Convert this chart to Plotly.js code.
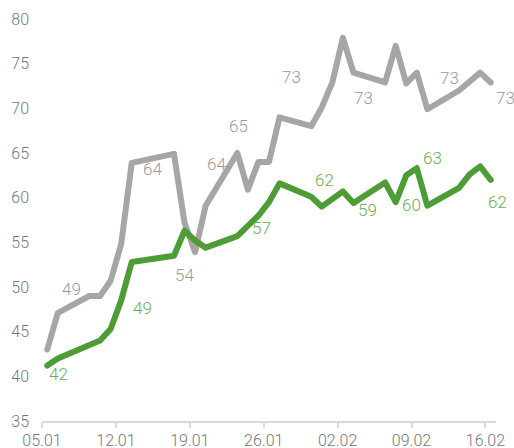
<!DOCTYPE html>
<html>
<head>
<meta charset="utf-8">
<script src="https://cdn.plot.ly/plotly-3.0.1.min.js"></script>
<style>
html,body{margin:0;padding:0;background:#fff;}
#chart{width:514px;height:448px;}
.scatterlayer path.js-line{stroke-linejoin:round;stroke-linecap:round;}
</style>
</head>
<body>
<div id="chart"></div>
<script>
// Poll dates (one point per date)
const dates = ['2021-01-05','2021-01-06','2021-01-09','2021-01-10','2021-01-11','2021-01-12','2021-01-13',
  '2021-01-17','2021-01-18','2021-01-19','2021-01-20','2021-01-23','2021-01-24','2021-01-25','2021-01-26',
  '2021-01-27','2021-01-30','2021-01-31','2021-02-01','2021-02-02','2021-02-03','2021-02-06','2021-02-07',
  '2021-02-08','2021-02-09','2021-02-10','2021-02-13','2021-02-14','2021-02-15','2021-02-16'];
const grayValues = [43.0,47.1,49.0,49.0,50.7,54.8,63.9,
  64.9,57.2,53.9,59.1,65.0,60.9,64.0,64.0,
  69.0,68.0,70.1,72.9,77.9,74.0,72.9,77.0,
  72.8,74.0,69.9,72.0,null,74.0,72.9];
const greenValues = [41.2,42.0,null,44.0,45.3,48.5,52.8,
  53.5,56.3,55.2,54.4,55.7,null,58.0,59.5,
  61.6,60.1,59.0,null,60.7,59.4,61.7,59.5,
  62.5,63.3,59.1,61.1,62.6,63.5,62.0];
// Data labels
const grayLabels = ['49','64','54','64','65','73','73','73','73'];
const greenLabels = ['42','49','57','62','59','60','63','62'];
const tickDates = ['2021-01-05','2021-01-12','2021-01-19','2021-01-26','2021-02-02','2021-02-09','2021-02-16'];
const tickText = ['05.01','12.01','19.01','26.01','02.02','09.02','16.02'];

// label placement (day offset from 05.01, y in axis units)
const grayLabelPos = [[2.84,49.8],[10.42,63.2],[13.5,51.3],[16.57,63.8],[18.62,68.0],[23.67,73.5],[30.45,71.2],[38.6,73.4],[43.87,71.2]];
const greenLabelPos = [[1.52,40.3],[9.53,47.6],[20.77,56.6],[26.73,62.0],[30.87,58.65],[35.04,59.2],[37.03,64.4],[43.14,59.5]];

const base = Date.UTC(2021,0,5);
const MAXDAY = 42.8, PXPERDAY = 10.56;
function dayToDate(d){ return new Date(base + d*86400000).toISOString().replace('T',' ').replace('Z',''); }
const xs = dates.map(d => d + ' 12:00');

const GRAY = '#a6a6a6', GREEN = '#4e9c36';
const FONT = 'Roboto, "Liberation Sans", sans-serif';

const traces = [
  {x: xs, y: grayValues, type:'scatter', mode:'lines', connectgaps:true,
   line:{color:GRAY, width:6}, hoverinfo:'skip'},
  {x: xs, y: greenValues, type:'scatter', mode:'lines', connectgaps:true,
   line:{color:GREEN, width:6}, hoverinfo:'skip'}
];

function makeAnn(t, pos, color){
  const d = Math.min(pos[0], MAXDAY);
  return {x:dayToDate(d), y:pos[1], xshift:(pos[0]-d)*PXPERDAY, text:t,
    showarrow:false, xanchor:'center', yanchor:'middle', font:{family:FONT, size:17, color:color, weight:300}};
}
const annotations = [];
grayLabels.forEach((t,i)=>annotations.push(makeAnn(t, grayLabelPos[i], '#9a9a9a')));
greenLabels.forEach((t,i)=>annotations.push(makeAnn(t, greenLabelPos[i], '#6aae4e')));

const layout = {
  width:514, height:448,
  margin:{l:42, r:18, t:19, b:27, pad:0},
  paper_bgcolor:'#fff', plot_bgcolor:'#fff',
  showlegend:false,
  font:{family:FONT, size:16, color:'#777777', weight:300},
  xaxis:{type:'date', range:['2021-01-05','2021-02-17'], tickvals:tickDates, ticktext:tickText,
    showgrid:false, zeroline:false, showline:true, linecolor:'#d9d9d9', linewidth:2,
    ticks:'outside', ticklen:5, tickwidth:2, tickcolor:'#d9d9d9', ticklabelstandoff:-1,
    tickfont:{family:FONT, size:16, color:'#777777', weight:300}},
  yaxis:{range:[35,80], tickvals:[35,40,45,50,55,60,65,70,75,80], showgrid:false, zeroline:false,
    showline:false, ticks:'', ticklabelstandoff:12,
    tickfont:{family:FONT, size:16, color:'#777777', weight:300}},
  annotations: annotations
};

Plotly.newPlot('chart', traces, layout, {staticPlot:true, displayModeBar:false});
</script>
</body>
</html>
